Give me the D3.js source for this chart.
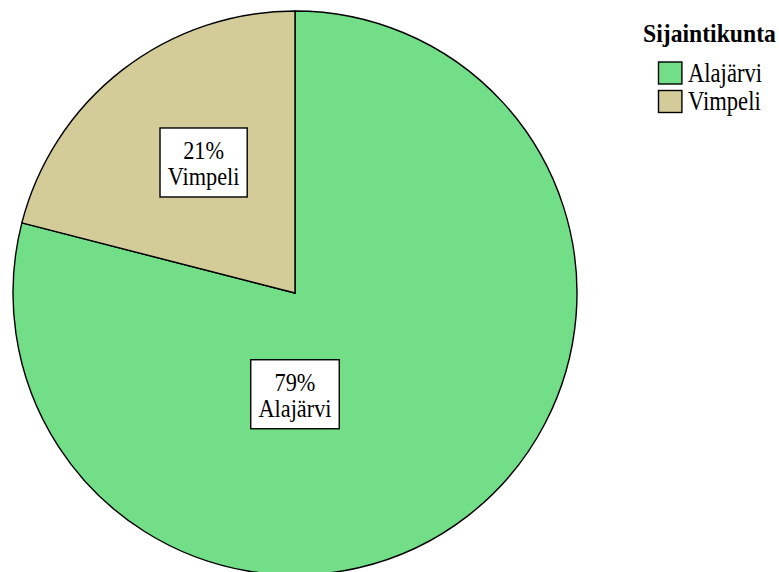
<!DOCTYPE html>
<html>
<head>
<meta charset="utf-8">
<script src="https://cdn.jsdelivr.net/npm/d3@7"></script>
<style>
  html, body { margin: 0; padding: 0; background: #fff; }
  svg { display: block; }
  text { font-family: "Liberation Serif", "Times New Roman", serif; fill: #000; }
</style>
</head>
<body>
<svg id="chart" width="779" height="572"></svg>
<script>
// Municipality shares (percent)
const categories = ["Alajärvi", "Vimpeli"];
const shares = [79, 21];
const colors = ["#72de88", "#d3cc99"];
const legendTitle = "Sijaintikunta";

const W = 779, H = 572;
const cx = 295, cy = 293, R = 282;
const stretchY = 1.2;        // legend glyphs are drawn slightly taller than wide
const labelStretchY = 1.1;   // same for the slice callouts, kept within the line pitch

// Label placement for each slice: angle (degrees, clockwise from top)
// and distance from the centre as a fraction of R
const labelPlacement = [
  { angle: 180, dist: 0.359 },
  { angle: 325, dist: 0.565 }
];

const svg = d3.select("#chart");

const data = categories.map((c, i) => ({ name: c, value: shares[i], color: colors[i] }));

const pie = d3.pie().value(d => d.value).sort(null).startAngle(0).endAngle(2 * Math.PI);
const arcs = pie(data);
const arc = d3.arc().innerRadius(0).outerRadius(R);

const g = svg.append("g").attr("transform", `translate(${cx},${cy})`);

g.selectAll("path.slice")
  .data(arcs)
  .join("path")
  .attr("class", "slice")
  .attr("d", arc)
  .attr("fill", d => d.data.color)
  .attr("stroke", "#000")
  .attr("stroke-width", 1.4)
  .attr("stroke-linejoin", "miter");

// Draws one line of stretched text with its baseline at (x, y)
function stretchedText(parent, x, y, str, size, anchor, sy) {
  return parent.append("text")
    .attr("transform", `translate(${x},${y}) scale(1,${sy})`)
    .attr("text-anchor", anchor)
    .style("font-size", size + "px")
    .text(str);
}

// Slice labels: percentage and name inside a boxed callout
const fontSize = 22.3;
const boxH = 69;
const base1 = 31, base2 = 57;   // baselines measured from the box top
arcs.forEach((a, i) => {
  const p = labelPlacement[i];
  const ang = p.angle * Math.PI / 180;
  const r = p.dist * R;
  const x = Math.sin(ang) * r;
  const y = -Math.cos(ang) * r;
  const lg = g.append("g").attr("transform", `translate(${x},${y - boxH / 2})`);
  const rect = lg.append("rect").attr("fill", "#fff").attr("stroke", "#000").attr("stroke-width", 1.4);
  const pct = Math.round(a.data.value / d3.sum(shares) * 100) + "%";
  const t1 = stretchedText(lg, 0, base1, pct, fontSize, "middle", labelStretchY);
  const t2 = stretchedText(lg, 0, base2, a.data.name, fontSize, "middle", labelStretchY);
  const w = Math.max(t1.node().getBBox().width, t2.node().getBBox().width);
  const boxW = w + 15;
  rect.attr("x", -boxW / 2).attr("y", 0).attr("width", boxW).attr("height", boxH);
});

// Legend
const lgd = svg.append("g").attr("transform", "translate(643,0)");
lgd.append("text")
  .attr("transform", "translate(0,41.7) scale(1,1.05)")
  .style("font-size", "23.7px")
  .style("font-weight", "bold")
  .text(legendTitle);

const items = lgd.selectAll("g.item")
  .data(data)
  .join("g")
  .attr("class", "item")
  .attr("transform", (d, i) => `translate(15.5,${62 + i * 28.5})`);
items.append("rect")
  .attr("width", 23.4).attr("height", 22)
  .attr("fill", d => d.color)
  .attr("stroke", "#000").attr("stroke-width", 1.4);
items.each(function (d) {
  stretchedText(d3.select(this), 29.5, 19.5, d.name, 22.6, "start", stretchY);
});
</script>
</body>
</html>
